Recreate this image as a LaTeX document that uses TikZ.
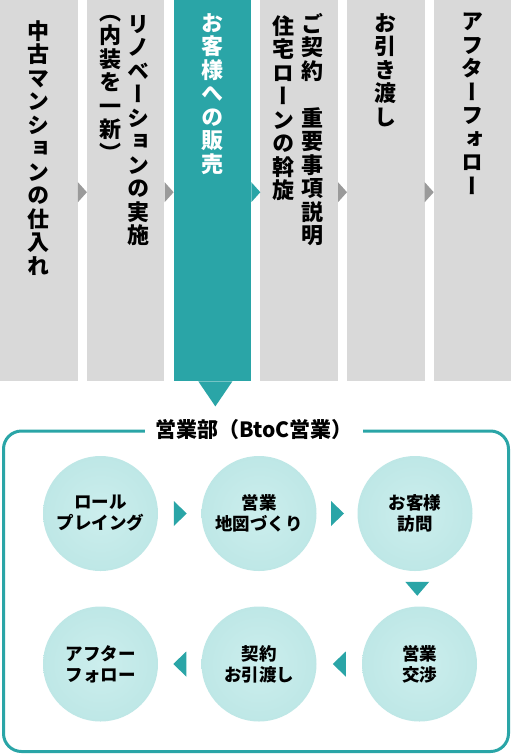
\documentclass[tikz,border=0pt]{standalone}
\usepackage{fontspec}
\newfontfamily\jp{Noto Sans CJK JP}
\newfontfamily\jpv{Noto Sans CJK JP}[RawFeature=+vert]
\usetikzlibrary{positioning,calc}

\definecolor{tealmain}{HTML}{2AA5A7}
\definecolor{colgray}{HTML}{D9D9D9}
\definecolor{arrowgray}{HTML}{9A9A9A}
\definecolor{bubblein}{HTML}{CCEEED}
\definecolor{bubbleout}{HTML}{A9DDDC}
\definecolor{bubbleedge}{HTML}{A0D7D6}
\pgfdeclareradialshading{bubbleshade}{\pgfpoint{0bp}{0bp}}{%
  color(0bp)=(bubblein); color(28bp)=(bubblein!55!bubbleout);
  color(46bp)=(bubbleout); color(50bp)=(bubbleedge)}

% vertical writing: one character per line
\newcommand\tate[1]{\vtop{\baselineskip=23.5pt\lineskiplimit=-100pt\tateloop#1\relax}}
\def\tateloop#1{\ifx\relax#1\else\hbox to 1em{\hss#1\hss}\expandafter\tateloop\fi}

\begin{document}
\begin{tikzpicture}[%
        x=1pt, y=-1pt,
        on grid,
        col/.style={fill=colgray, minimum width=77.5pt, minimum height=381pt, inner sep=0pt},
        tategaki/.style={anchor=north, inner sep=0pt, font=\jpv\bfseries\fontsize{22}{23.5}\selectfont},
        bubble/.style={circle, minimum size=115pt, inner sep=0pt, shading=bubbleshade,
            align=center, font=\jp\bfseries\fontsize{17.5}{21}\selectfont}
        ]
        \fill[white] (0,0) rectangle (511,755);
        \useasboundingbox (0,0) rectangle (511,755);

        % the six steps
        \node[col, anchor=north west] (c1) at (0,0) {};
        \node[col] (c2) [right=86.7pt of c1] {};
        \node[col, fill=tealmain] (c3) [right=86.7pt of c2] {};
        \node[col] (c4) [right=86.7pt of c3] {};
        \node[col] (c5) [right=86.7pt of c4] {};
        \node[col] (c6) [right=86.7pt of c5] {};

        \node[tategaki] (t1) at ($(c1.north)+(0,20)$) {\tate{中古マンションの仕入れ}};
        \node[tategaki] (t2a) at ($(c2.north)+(13,15)$) {\tate{リノベーションの実施}};
        \node[tategaki] (t2b) at ($(c2.north)+(-15,15)$) {\tate{（内装を一新）}};
        \node[tategaki, white] (t3) at ($(c3.north)+(0,13)$) {\tate{お客様への販売}};
        \node[tategaki] (t4a) at ($(c4.north)+(13,13)$) {\tate{ご契約　重要事項説明}};
        \node[tategaki] (t4b) at ($(c4.north)+(-16,15)$) {\tate{住宅ローンの斡旋}};
        \node[tategaki] (t5) at ($(c5.north)+(0,13)$) {\tate{お引き渡し}};
        \node[tategaki] (t6) at ($(c6.north)+(0,13)$) {\tate{アフターフォロー}};

        \foreach \a in {c1,c2,c4,c5}
            \fill[arrowgray] ($(\a.east)+(0,1.5)$) ++(0,-10) -- ++(9,10) -- ++(-9,10) -- cycle;
        \fill[tealmain] ($(c3.east)+(0,1.5)$) ++(0,-10) -- ++(9,10) -- ++(-9,10) -- cycle;
        \fill[tealmain] (c3.south) ++(-14,0) -- ++(34,0) -- ++(-17,25) -- cycle;

        % sales department
        \draw[tealmain, line width=3pt, rounded corners=18pt] (3.5,431) rectangle (508.5,751.5);
        \node[fill=white, inner xsep=10pt, inner ysep=2pt,
            font=\jp\bfseries\fontsize{21}{24}\selectfont] (bu) at (254,430) {営業部（BtoC営業）};

        \node[bubble] (r1) at (100.5,513.5) {ロール\\プレイング};
        \node[bubble] (r2) [right=158.5pt of r1] {営業\\地図づくり};
        \node[bubble] (r3) [right=156pt of r2] {お客様\\訪問};
        \node[bubble] (r4) [below=150.5pt of r3, xshift=4.5pt] {営業\\交渉};
        \node[bubble] (r5) [left=160.5pt of r4] {契約\\お引渡し};
        \node[bubble] (r6) [left=158.5pt of r5] {アフター\\フォロー};

        \foreach \a/\b in {r1/r2,r2/r3}
            \fill[tealmain] ($(\a.east)!.5!(\b.west)$) ++(-6,-12.5) -- ++(13,12.5) -- ++(-13,12.5) -- cycle;
        \fill[tealmain] ($(r3.south)!.5!(r4.north)$) ++(-12,-7) -- ++(24,0) -- ++(-12,14) -- cycle;
        \foreach \a/\b in {r4/r5,r5/r6}
            \fill[tealmain] ($(\a.west)!.5!(\b.east)$) ++(6.5,-12.5) -- ++(-13,12.5) -- ++(13,12.5) -- cycle;

    \end{tikzpicture}
\end{document}
